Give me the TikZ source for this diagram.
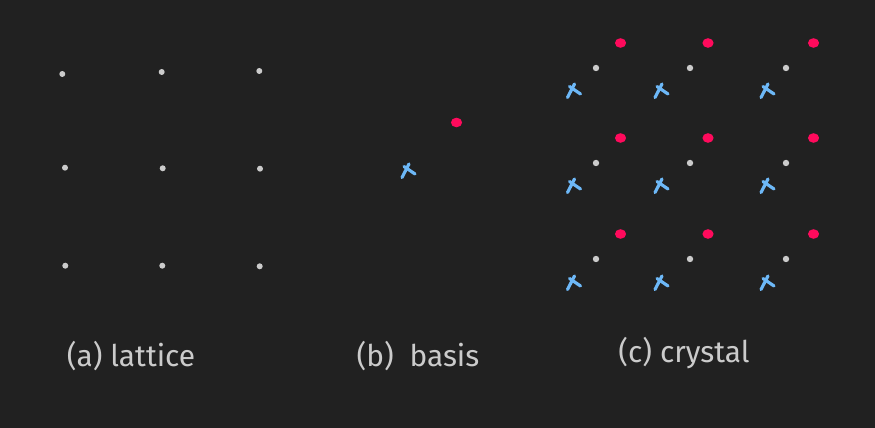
\documentclass[tikz,border=0pt]{standalone}
\usepackage{fontspec}
\setmainfont{Fira Sans}
\definecolor{bgcol}{HTML}{212121}
\definecolor{latcol}{HTML}{CBCBCB}
\definecolor{atomred}{HTML}{FF0A5C}
\definecolor{atomblue}{HTML}{6DB8F7}
\tikzset{
    latdot/.style={fill=latcol},
    reddot/.style={fill=atomred},
    caption/.style={text=latcol, font=\fontsize{17}{20}\selectfont, inner sep=0pt},
    xmark/.pic={
        \draw[atomblue, line width=1.8pt, line cap=round] (-5,7.5) -- (2,-6);
        \draw[atomblue, line width=1.8pt, line cap=round] (-3,-3.5) -- (8,4);
    }
}
\begin{document}
\begin{tikzpicture}[x=0.02cm, y=-0.02cm]
    % Background
    \fill[bgcol] (0,0) rectangle (875,428);
    \useasboundingbox (0,0) rectangle (875,428);

    % (a) lattice points
    \foreach \p in {(62.3,74),(161.7,72),(259.3,71),
                    (65,167.7),(162.7,168.3),(260,168.7),
                    (65.3,265.7),(162.3,265.7),(259.7,266.3)}
        \fill[latdot] \p circle (3);

    % (b) basis: one blue atom and one red atom
    \pic at (407,170) {xmark};
    \fill[reddot] (456.5,122.5) ellipse (5.6 and 4.8);

    % (c) crystal = lattice + basis
    \foreach \gx/\rx/\cx in {596/620.5/572.5, 690/708/660, 786/813.5/766}
        \foreach \gy/\ry/\cy in {68/43/90, 163/138/185, 259/234/282} {
            \fill[latdot] (\gx,\gy) circle (3.2);
            \fill[reddot] (\rx,\ry) ellipse (5.6 and 4.8);
            \pic at (\cx,\cy) {xmark};
        }

    % Captions
    \node[caption] (capa) at (131,356) {(a) lattice};
    \node[caption] (capb) at (418,356) {(b)\ \ basis};
    \node[caption] (capc) at (684,353) {(c) crystal};

\end{tikzpicture}
\end{document}
